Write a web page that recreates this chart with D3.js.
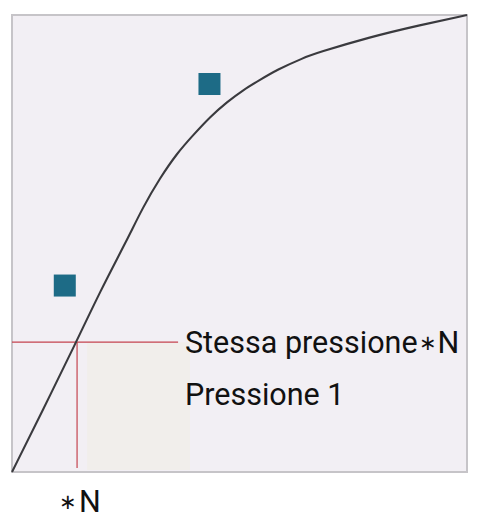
<!DOCTYPE html>
<html>
<head>
<meta charset="utf-8">
<script src="https://cdn.jsdelivr.net/npm/d3@7"></script>
<style>
  html, body { margin: 0; padding: 0; background: #ffffff; }
  svg { display: block; }
</style>
</head>
<body>
<svg id="chart"></svg>
<script>
// curve (x, y on a 0..100 scale)
const curveX = [0, 6.8, 14.1, 19.3, 25.3, 28.8, 32.5, 36.3, 39.8, 43.5, 47.3, 50.8, 54.5, 58.2, 64.0, 67.0, 78.7, 89.7, 100];
const curveY = [0, 13.6, 28.4, 39.4, 50.8, 58.0, 64.3, 69.8, 73.7, 77.7, 81.0, 83.6, 85.8, 88.0, 90.6, 91.7, 95.2, 97.8, 100];

// the two square markers
const markX = [11.6, 43.4];
const markY = [40.8, 84.9];

// the reading at N
const crossX = 14.3;
const crossY = 28.4;
const lineEndX = 36.5;
const shadeEndX = 39.1;

const labels = ["Stessa pressione", "Pressione 1"];
const starSuffix = [true, false];
const axisLabel = "N";

const W = 478, H = 518;
const box = { left: 12, top: 15, right: 467, bottom: 472 };

const svg = d3.select('#chart')
  .attr('width', W)
  .attr('height', H);

const x = d3.scaleLinear().domain([0, 100]).range([box.left, box.right]);
const y = d3.scaleLinear().domain([0, 100]).range([box.bottom, box.top]);

// panel
svg.append('rect')
  .attr('x', box.left)
  .attr('y', box.top)
  .attr('width', box.right - box.left)
  .attr('height', box.bottom - box.top)
  .style('fill', '#f2eff4')
  .style('stroke', '#c6c4c8')
  .style('stroke-width', 2);

// faint shaded area under the reading
svg.append('rect')
  .attr('x', x(crossX) + 10)
  .attr('y', y(crossY))
  .attr('width', x(shadeEndX) - x(crossX) - 10)
  .attr('height', y(0) - y(crossY) - 2)
  .style('fill', '#f1eeeb');

// red guide lines
svg.append('line')
  .attr('x1', x(0)).attr('x2', x(lineEndX))
  .attr('y1', y(crossY)).attr('y2', y(crossY))
  .style('stroke', '#c4434f')
  .style('stroke-width', 1.2);

svg.append('line')
  .attr('x1', x(crossX)).attr('x2', x(crossX))
  .attr('y1', y(crossY)).attr('y2', y(0) - 4)
  .style('stroke', '#c4434f')
  .style('stroke-width', 1.2);

// curve
const line = d3.line()
  .x(d => x(d[0]))
  .y(d => y(d[1]))
  .curve(d3.curveBasis);

svg.append('path')
  .datum(d3.zip(curveX, curveY))
  .attr('d', line)
  .style('fill', 'none')
  .style('stroke', '#3a3a3e')
  .style('stroke-width', 2.1);

// markers
const size = 22;
svg.selectAll('rect.mark')
  .data(d3.zip(markX, markY))
  .enter()
  .append('rect')
  .attr('class', 'mark')
  .attr('x', d => x(d[0]) - size / 2)
  .attr('y', d => y(d[1]) - size / 2)
  .attr('width', size)
  .attr('height', size)
  .style('fill', '#1d6b86');

// texts
const font = 'Roboto, sans-serif';
const fs = 30.5;

const labs = svg.selectAll('text.lab')
  .data(labels)
  .enter()
  .append('text')
  .attr('class', 'lab')
  .attr('x', 185)
  .attr('y', (d, i) => 353 + i * 52)
  .style('font-family', font)
  .style('font-size', fs + 'px')
  .style('fill', '#111111');

labs.append('tspan').text(d => d);
labs.filter((d, i) => starSuffix[i]).append('tspan')
  .style('font-size', '21px')
  .attr('dx', 1)
  .attr('dy', -3)
  .text('\u2217');
labs.filter((d, i) => starSuffix[i]).append('tspan')
  .attr('dx', 1)
  .attr('dy', 3)
  .text(axisLabel);

const ax = svg.append('text')
  .attr('x', x(crossX) - 18)
  .attr('y', 512)
  .style('font-family', font)
  .style('font-size', fs + 'px')
  .style('fill', '#111111');
ax.append('tspan').style('font-size', '21px').attr('dy', -3).text('\u2217');
ax.append('tspan').attr('dx', 2).attr('dy', 3).text(axisLabel);
</script>
</body>
</html>
